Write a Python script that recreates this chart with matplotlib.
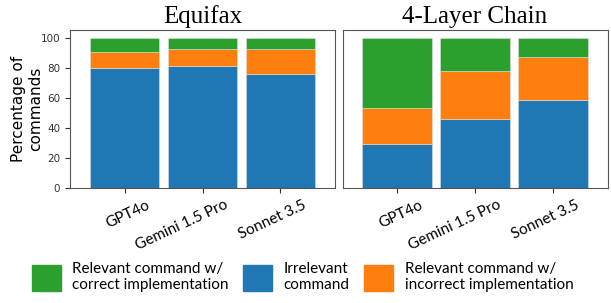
import numpy as np
import matplotlib.pyplot as plt
import matplotlib.transforms as mtransforms
from matplotlib.patches import Patch

# --- データ ---
models = ["GPT4o", "Gemini 1.5 Pro", "Sonnet 3.5"]
titles = ["Equifax", "4-Layer Chain"]

# 各シナリオ: 無関係 / 関係あり(誤実装) / 関係あり(正実装)
equifax_irrelevant = [80.0, 81.3, 75.7]
equifax_incorrect = [10.1, 11.1, 16.7]
equifax_correct = [9.9, 7.6, 7.6]

chain_irrelevant = [29.2, 45.8, 58.5]
chain_incorrect = [23.8, 31.7, 28.5]
chain_correct = [47.0, 22.5, 13.0]

legend_labels = ["Relevant command w/\ncorrect implementation",
                 "Irrelevant\ncommand",
                 "Relevant command w/\nincorrect implementation"]

c_blue, c_orange, c_green = "#1f77b4", "#ff7f0e", "#2ca02c"

fig = plt.figure(figsize=(6.11, 3.03), dpi=100)
ax1 = fig.add_axes([0.1146, 0.3795, 0.4337, 0.5215])
ax2 = fig.add_axes([0.5606, 0.3795, 0.4337, 0.5215])

data = [(equifax_irrelevant, equifax_incorrect, equifax_correct),
        (chain_irrelevant, chain_incorrect, chain_correct)]

# ラベルを右へずらすためのオフセット
offset = mtransforms.ScaledTranslation(0.22, 0.0, fig.dpi_scale_trans)

x = np.arange(len(models))
w = 0.89
for ax, title, (irr, inc, cor) in zip([ax1, ax2], titles, data):
    irr = np.array(irr)
    inc = np.array(inc)
    cor = np.array(cor)
    kw = dict(width=w, edgecolor="#dddddd", linewidth=0.4)
    ax.bar(x, irr, color=c_blue, **kw)
    ax.bar(x, inc, bottom=irr, color=c_orange, **kw)
    ax.bar(x, cor, bottom=irr + inc, color=c_green, **kw)
    ax.set_xlim(-0.7, 2.7)
    ax.set_ylim(0, 105)
    ax.set_xticks(x)
    ax.set_xticklabels(models, rotation=25, ha="right", va="top",
                       rotation_mode="anchor", fontsize=11, family="Lato")
    for lab in ax.get_xticklabels():
        lab.set_transform(lab.get_transform() + offset)
    ax.set_title(title, fontsize=18, family="Liberation Serif", pad=5)
    for s in ax.spines.values():
        s.set_color("#555555")
    ax.tick_params(axis="y", labelsize=7.5, colors="#333333")
    ax.tick_params(axis="x", colors="#333333", labelcolor="black")

ax1.set_yticks([0, 20, 40, 60, 80, 100])
ax1.set_ylabel("Percentage of\ncommands", fontsize=11)
ax1.yaxis.set_label_coords(-0.1, 0.5)
ax2.set_yticks([])

handles = [Patch(color=c_green), Patch(color=c_blue), Patch(color=c_orange)]
fig.legend(handles, legend_labels, loc="lower center", bbox_to_anchor=(0.495, -0.01),
           ncol=3, frameon=False, prop={"family": "Lato", "size": 11},
           handlelength=1.9, handleheight=2.3, columnspacing=0.95, handletextpad=0.75)

plt.savefig("out.png", dpi=100)
